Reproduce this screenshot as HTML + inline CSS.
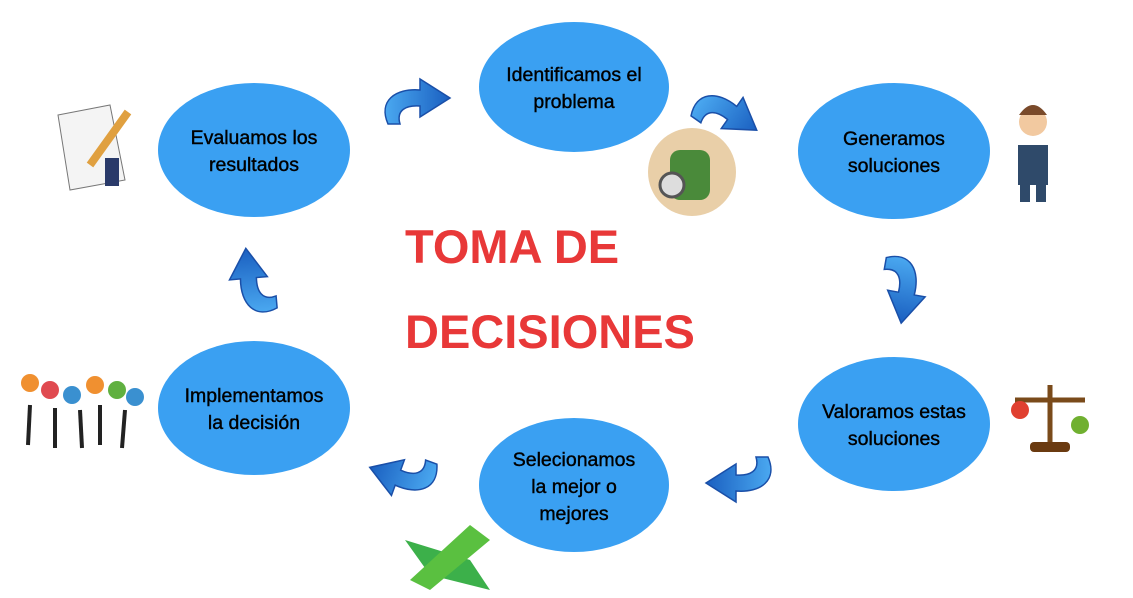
<!DOCTYPE html>
<html><head><meta charset="utf-8"><style>
html,body{margin:0;padding:0;background:#fff;}
svg{display:block}
text{font-family:"Liberation Sans",Arial,sans-serif;}
</style></head><body>
<svg width="1133" height="598" viewBox="0 0 1133 598" xmlns="http://www.w3.org/2000/svg">
<defs>
<linearGradient id="g" x1="0" y1="0" x2="1" y2="0">
<stop offset="0" stop-color="#4aa8f0"/><stop offset="1" stop-color="#1a5fc0"/></linearGradient>
<path id="ar" d="M8,48 C-2,25 15,12 40,14 L40,3 L70,22 L40,41 L40,30 C26,29 16,34 20,48 Z" fill="url(#g)" stroke="#1a4fa8" stroke-width="1.5"/>
</defs>
<g fill="#3aa0f2">
<ellipse cx="574" cy="87" rx="95" ry="65"/>
<ellipse cx="894" cy="151" rx="96" ry="68"/>
<ellipse cx="894" cy="424" rx="96" ry="67"/>
<ellipse cx="574" cy="485" rx="95" ry="67"/>
<ellipse cx="254" cy="408" rx="96" ry="67"/>
<ellipse cx="254" cy="150" rx="96" ry="67"/>
</g>
<g font-size="19.5" fill="#000" text-anchor="middle" stroke="#000" stroke-width="0.4">
<text x="574" y="81">Identificamos el</text><text x="574" y="108">problema</text>
<text x="894" y="145">Generamos</text><text x="894" y="172">soluciones</text>
<text x="894" y="418">Valoramos estas</text><text x="894" y="445">soluciones</text>
<text x="574" y="466">Selecionamos</text><text x="574" y="493">la mejor o</text><text x="574" y="520">mejores</text>
<text x="254" y="402">Implementamos</text><text x="254" y="429">la decisión</text>
<text x="254" y="144">Evaluamos los</text><text x="254" y="171">resultados</text>
</g>
<g font-size="47" font-weight="bold" fill="#e83838">
<text x="405" y="263">TOMA DE</text>
<text x="405" y="348">DECISIONES</text>
</g>
<use href="#ar" transform="translate(380,76)"/>
<use href="#ar" transform="translate(712,72) rotate(35)"/>
<use href="#ar" transform="translate(935,258) rotate(100)"/>
<use href="#ar" transform="translate(776,505) scale(-1,-1)"/>
<use href="#ar" transform="translate(428,512) rotate(200)"/>
<use href="#ar" transform="translate(230,320) rotate(-95)"/>
<!-- icons -->
<circle cx="692" cy="172" r="44" fill="#e9cfa8"/>
<rect x="670" y="150" width="40" height="50" rx="10" fill="#4a8a3a"/>
<circle cx="672" cy="185" r="12" fill="#ddd" stroke="#555" stroke-width="3"/>
<g fill="#2f4a6a"><rect x="1018" y="145" width="30" height="40"/><rect x="1020" y="185" width="10" height="17"/><rect x="1036" y="185" width="10" height="17"/></g>
<circle cx="1033" cy="122" r="14" fill="#f2c9a0"/><path d="M1019,115 q14,-20 28,0 z" fill="#7a4a2a"/>
<g stroke="#7a4a1a" stroke-width="5" fill="none"><line x1="1050" y1="385" x2="1050" y2="445"/><line x1="1015" y1="400" x2="1085" y2="400"/></g>
<rect x="1030" y="442" width="40" height="10" rx="4" fill="#6a3a10"/>
<circle cx="1020" cy="410" r="9" fill="#e04030"/><circle cx="1080" cy="425" r="9" fill="#70b030"/>
<path d="M405,540 L470,560 L490,590 L430,575 Z" fill="#3cb04a"/><path d="M410,580 L470,525 L490,540 L430,590 Z" fill="#5ac040"/>
<g fill="#f09030"><circle cx="30" cy="383" r="9"/><circle cx="95" cy="385" r="9"/></g>
<g fill="#e04a50"><circle cx="50" cy="390" r="9"/></g><g fill="#3a90d0"><circle cx="72" cy="395" r="9"/><circle cx="135" cy="397" r="9"/></g>
<g fill="#60b040"><circle cx="117" cy="390" r="9"/></g>
<g stroke="#222" stroke-width="4"><line x1="30" y1="405" x2="28" y2="445"/><line x1="55" y1="408" x2="55" y2="448"/><line x1="80" y1="410" x2="82" y2="448"/><line x1="100" y1="405" x2="100" y2="445"/><line x1="125" y1="410" x2="122" y2="448"/></g>
<path d="M58,115 L110,105 L125,180 L70,190 Z" fill="#f4f4f4" stroke="#777"/>
<line x1="90" y1="165" x2="128" y2="112" stroke="#e0a040" stroke-width="8"/>
<rect x="105" y="158" width="14" height="28" fill="#2a3a6a"/>
</svg>
</body></html>
